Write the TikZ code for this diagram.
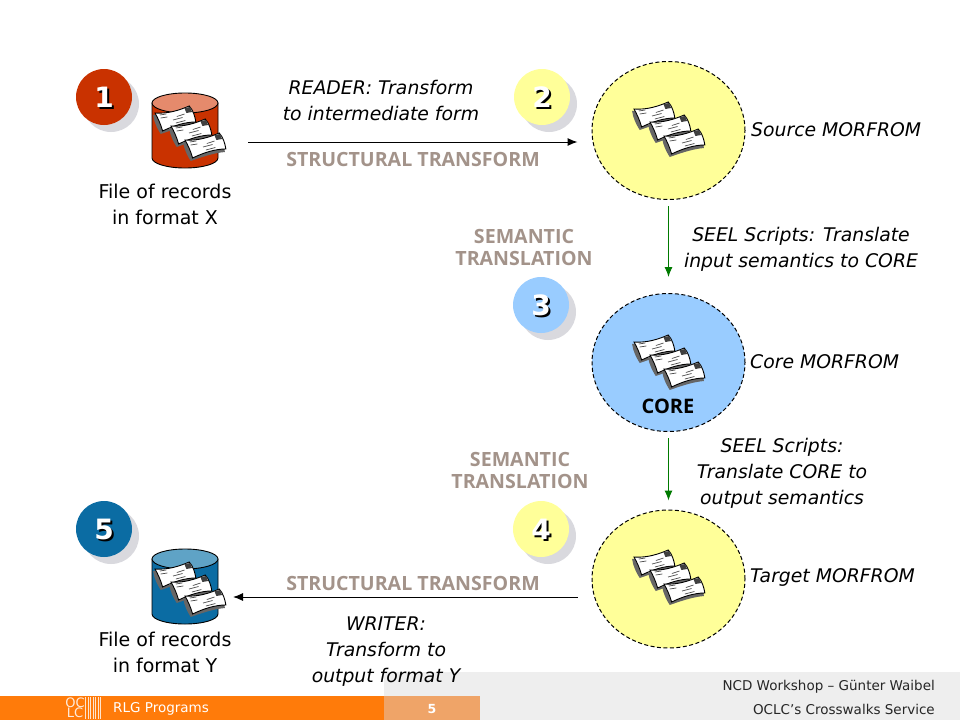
\documentclass[tikz,border=0pt]{standalone}
\usepackage{fontspec}
\setmainfont{DejaVu Sans}
\newfontfamily\labfont{Open Sans}
\usetikzlibrary{shapes.geometric,arrows.meta}
\definecolor{redb}{HTML}{C93200}
\definecolor{redt}{HTML}{E58A6C}
\definecolor{yel}{HTML}{FFFF99}
\definecolor{blu}{HTML}{99CCFF}
\definecolor{dblue}{HTML}{0B6CA3}
\definecolor{dbluet}{HTML}{5FA3C6}
\definecolor{shad}{HTML}{D9D9DE}
\definecolor{lab}{HTML}{A3938A}
\definecolor{ora}{HTML}{FF7B0A}
\definecolor{ora2}{HTML}{EFA468}
\definecolor{gry}{HTML}{EEEEEE}
\definecolor{grn}{HTML}{007A00}
\tikzset{
 x=1pt,y=-1pt,
 blob/.style={ellipse,draw=black,line width=1pt,inner sep=0pt,minimum width=153pt,minimum height=138pt,dash pattern=on 4pt off 2.5pt},
 badge/.style={circle,fill=#1,inner sep=0pt,minimum size=56pt},
 badgeshadow/.style={circle,fill=shad,inner sep=0pt,minimum size=56pt},
 digit/.style={font=\fontsize{28}{28}\selectfont\bfseries,inner sep=0pt},
 txt/.style={font=\fontsize{19}{26}\selectfont,align=center,inner sep=0pt,text=black},
 itxt/.style={font=\fontsize{18.8}{26}\selectfont\itshape,align=center,inner sep=0pt,text=black},
 lbl/.style={font=\fontsize{19.6}{22}\selectfont\labfont\bfseries,align=center,inner sep=0pt,text=lab},
 conn/.style={line width=1pt,-{Latex[length=10pt,width=8pt]}},
 gconn/.style={line width=1pt,draw=grn,-{Latex[length=10pt,width=8pt,fill=grn]}},
 foot/.style={font=\fontsize{13.5}{14}\selectfont,inner sep=0pt},
 pics/sheet/.style={code={
   \begin{scope}[xscale=.95]
   \fill[black!60] (-2,2) .. controls (-1,9) and (2,15) .. (6,21) .. controls (18,17) and (30,13) .. (42,12) -- (40,0) -- cycle;
   \draw[fill=white,line width=.9pt] (0,0) .. controls (14,1) and (26,-3) .. (36,-7) .. controls (40,-3) and (42,3) .. (43,9) .. controls (31,9) and (19,13) .. (8,18) .. controls (6,11) and (3,5) .. (0,0) -- cycle;
   \fill[black!75] (31,-5) -- (37,-6) -- (39,-1) -- (33,0) -- cycle;
   \draw[line width=.7pt,black!70] (5,2) -- (12,1) (6,5) -- (13,4) (19,7) -- (29,4.5) (23,3.5) -- (31,1) (22,10) -- (32,7.5);
   \end{scope}
 }},
 pics/records/.style={code={
   \pic at (0,0) {sheet};
   \pic at (16,13) {sheet};
   \pic at (30,27) {sheet};
 }},
 pics/cyl/.style n args={2}{code={
   \draw[fill=#1,line width=.9pt] (-33,-27.5) -- (-33,27.5) arc[start angle=180,end angle=360,x radius=33,y radius=-10] -- (33,-27.5) -- cycle;
   \draw[fill=#2,line width=.9pt] (0,-27.5) ellipse[x radius=33,y radius=10];
 }},
}
\begin{document}
\begin{tikzpicture}
\useasboundingbox (0,0) rectangle (960,720);
% footer
\fill[gry] (384,672) rectangle (960,720);
\fill[ora] (0,696) rectangle (384,720);
\fill[ora2] (384,696) rectangle (480,720);
\node[foot,text=white!85!ora,font=\fontsize{13}{13}\rmfamily\selectfont] (oc) at (75,703) {OC};
\node[foot,text=white!85!ora,font=\fontsize{13}{13}\rmfamily\selectfont] (lc) at (75,713) {LC};
\foreach \xx in {85,87.5,90,92.5,95,97.5,100}{\fill[white!80!ora] (\xx,697) rectangle ++(1.3,22);}
\node[foot,text=white,anchor=west] (rlg) at (113,709) {RLG Programs};
\node[foot,text=white,font=\fontsize{12.5}{14}\selectfont\bfseries] (pg) at (432,709) {5};
\node[foot,text=black!85,anchor=east] (w1) at (935,686.5) {NCD Workshop – Günter Waibel};
\node[foot,text=black!85,anchor=east] (w2) at (935,709) {OCLC’s Crosswalks Service};
% blobs
\node[blob,fill=yel] (src) at (668.5,130.5) {};
\node[blob,fill=blu] (core) at (668.5,362.5) {};
\node[blob,fill=yel] (tgt) at (668.5,579) {};
% cylinders
\pic at (185,130.5) {cyl={redb}{redt}};
\pic at (185,586.5) {cyl={dblue}{dbluet}};
\coordinate (cyl1) at (248,142);
\coordinate (cyl2) at (233,597);
% records
\pic at (155,113) {records};
\pic at (155,569) {records};
\pic at (634,109) {records};
\pic at (634,342) {records};
\pic at (634,557) {records};
% badges
\foreach \n/\xx/\yy/\col in {a/104/97/redb,b/542/97/yel,c/541/305/blu,d/541/529/yel,e/104/529/dblue}{
  \node[badgeshadow] at (\xx+7,\yy+7) {};
  \node[badge=\col] (bad\n) at (\xx,\yy) {};
}
\foreach \n/\t in {a/1,b/2,c/3,d/4,e/5}{
  \node[digit,text=black] at ([xshift=2pt,yshift=-2pt]bad\n) {\t};
  \node[digit,text=white] at (bad\n) {\t};
}
% connectors
\draw[conn,shorten >=14pt] (cyl1) -- (src.west |- cyl1);
\draw[gconn,shorten <=6pt,shorten >=16pt] (src.south) -- (core.north);
\draw[gconn,shorten <=6pt,shorten >=9pt] (core.south) -- (tgt.north);
\draw[conn,shorten <=14pt] (tgt.west |- cyl2) -- (cyl2);
% text
\node[txt] (t1) at (165,204) {File of records\\in format X};
\node[txt] (t2) at (165,652) {File of records\\in format Y};
\node[itxt] (t3) at (381,100.5) {READER: Transform\\to intermediate form};
\node[lbl] (l1) at (413,159) {STRUCTURAL TRANSFORM};
\node[lbl] (l2) at (524,247) {SEMANTIC\\TRANSLATION};
\node[lbl] (l3) at (520,470) {SEMANTIC\\TRANSLATION};
\node[lbl] (l4) at (413,583) {STRUCTURAL TRANSFORM};
\node[itxt,anchor=west] (t4) at (751,130) {Source MORFROM};
\node[itxt,anchor=west] (t5) at (750,362) {Core MORFROM};
\node[itxt,anchor=west] (t6) at (750,577.5) {Target MORFROM};
\node[itxt] (t7) at (801,249.5) {SEEL Scripts: Translate\\input semantics to CORE};
\node[itxt] (t8) at (782,473) {SEEL Scripts:\\Translate CORE to\\output semantics};
\node[itxt] (t9) at (386,652) {WRITER:\\Transform to\\output format Y};
\node[font=\fontsize{20}{20}\selectfont\labfont\bfseries,inner sep=0pt] (cr) at (668,406) {CORE};
\end{tikzpicture}
\end{document}
